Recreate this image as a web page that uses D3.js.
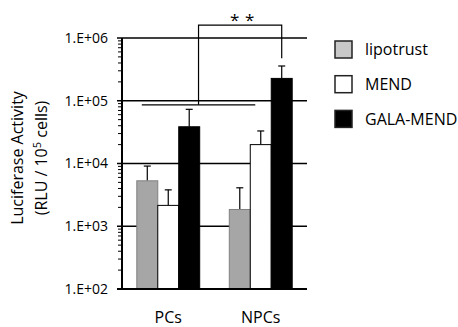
<!DOCTYPE html>
<html>
<head>
<meta charset="utf-8">
<script src="https://cdn.jsdelivr.net/npm/d3@7"></script>
<style>
  body { margin: 0; background: #fff; }
  text { font-family: "Open Sans", sans-serif; fill: #000; }
</style>
</head>
<body>
<div id="chart"></div>
<script>
// Data
const categories = ["PCs", "NPCs"];
const seriesNames = ["lipotrust", "MEND", "GALA-MEND"];
const lipotrustMean = [5300, 1850];
const lipotrustUpper = [9100, 4100];
const mendMean = [2150, 20000];
const mendUpper = [3800, 33000];
const galaMean = [38500, 227000];
const galaUpper = [73000, 358000];
const yTicks = [1e2, 1e3, 1e4, 1e5, 1e6];
const yTickLabels = ["1.E+02", "1.E+03", "1.E+04", "1.E+05", "1.E+06"];

const width = 458, height = 327;
const svg = d3.select("#chart").append("svg")
    .attr("width", width)
    .attr("height", height);

const x0 = d3.scaleBand().domain(categories).range([122, 307])
    .paddingInner(0.32).paddingOuter(0.16);
const x1 = d3.scaleBand().domain(seriesNames).range([0, x0.bandwidth()]);
const y = d3.scaleLog().domain([1e2, 1e6]).range([289, 38]);

const fills = { "lipotrust": "#a6a6a6", "MEND": "#ffffff", "GALA-MEND": "#000000" };
const strokes = { "lipotrust": "#808080", "MEND": "#000000", "GALA-MEND": "#000000" };
const legendFills = { "lipotrust": "#c8c8c8", "MEND": "#ffffff", "GALA-MEND": "#000000" };

const bars = [];
categories.forEach((c, i) => {
    bars.push({ cat: c, s: "lipotrust", v: lipotrustMean[i], up: lipotrustUpper[i] });
    bars.push({ cat: c, s: "MEND", v: mendMean[i], up: mendUpper[i] });
    bars.push({ cat: c, s: "GALA-MEND", v: galaMean[i], up: galaUpper[i] });
});

// gridlines at each decade
svg.append("g").selectAll("line")
    .data(yTicks)
    .enter().append("line")
    .attr("x1", 117).attr("x2", 307)
    .attr("y1", d => y(d)).attr("y2", d => y(d))
    .attr("stroke", "#000").attr("stroke-width", 1.5);

// minor ticks
const minor = [];
for (let e = 2; e < 6; e++) for (let m = 2; m <= 9; m++) minor.push(m * Math.pow(10, e));
svg.append("g").selectAll("line")
    .data(minor)
    .enter().append("line")
    .attr("x1", 118).attr("x2", 122)
    .attr("y1", d => y(d)).attr("y2", d => y(d))
    .attr("stroke", "#000").attr("stroke-width", 1);

// error bars
const capW = 7;
const err = svg.append("g").selectAll("g")
    .data(bars)
    .enter().append("g")
    .attr("transform", d => `translate(${x0(d.cat) + x1(d.s) + x1.bandwidth() / 2},0)`);
err.append("line")
    .attr("y1", d => y(d.v)).attr("y2", d => y(d.up))
    .attr("stroke", "#000").attr("stroke-width", 1.2);
err.append("line")
    .attr("x1", -capW / 2).attr("x2", capW / 2)
    .attr("y1", d => y(d.up)).attr("y2", d => y(d.up))
    .attr("stroke", "#000").attr("stroke-width", 1.2);

// bars
svg.append("g").selectAll("rect")
    .data(bars)
    .enter().append("rect")
    .attr("x", d => x0(d.cat) + x1(d.s))
    .attr("width", x1.bandwidth())
    .attr("y", d => y(d.v))
    .attr("height", d => y(1e2) - y(d.v))
    .attr("fill", d => fills[d.s])
    .attr("stroke", d => strokes[d.s])
    .attr("stroke-width", 1);

// axes lines
svg.append("line").attr("x1", 122).attr("x2", 122).attr("y1", 38).attr("y2", 289)
    .attr("stroke", "#000").attr("stroke-width", 2);
svg.append("line").attr("x1", 117).attr("x2", 307).attr("y1", 289).attr("y2", 289)
    .attr("stroke", "#000").attr("stroke-width", 2);

// y tick labels
svg.append("g").selectAll("text")
    .data(yTicks)
    .enter().append("text")
    .attr("x", 108)
    .attr("y", d => y(d))
    .attr("dy", "0.35em")
    .attr("text-anchor", "end")
    .attr("font-size", 14)
    .text((d, i) => yTickLabels[i]);

// category labels
svg.append("g").selectAll("text")
    .data(categories)
    .enter().append("text")
    .attr("x", d => x0(d) + x0.bandwidth() / 2)
    .attr("y", 323)
    .attr("text-anchor", "middle")
    .attr("font-size", 16)
    .text(d => d);

// y axis title
const title = svg.append("text")
    .attr("transform", "translate(0,158) rotate(-90)")
    .attr("text-anchor", "middle")
    .attr("font-size", 16);
title.append("tspan").attr("x", 0).attr("y", 23).text("Luciferase  Activity");
const t2 = title.append("tspan").attr("x", 0).attr("y", 47);
t2.append("tspan").text("(RLU / 10");
t2.append("tspan").attr("font-size", 11).attr("dy", -6).text("5");
t2.append("tspan").attr("dy", 6).text(" cells)");

// significance bracket
const pcStart = x0("PCs");
const npcStart = x0("NPCs");
const lowY = y(8.6e4), topY = y(1.6e6), dropY = y(4.75e5);
const leftX = pcStart + 5, rightX = npcStart + x1("MEND") + 5;
const midX = (leftX + rightX) / 2;
const endX = npcStart + x1("GALA-MEND") + x1.bandwidth() / 2;
svg.append("line").attr("x1", leftX).attr("x2", rightX).attr("y1", lowY).attr("y2", lowY)
    .attr("stroke", "#000").attr("stroke-width", 1.2);
svg.append("path")
    .attr("d", `M${midX},${lowY}V${topY}H${endX}V${dropY}`)
    .attr("fill", "none").attr("stroke", "#000").attr("stroke-width", 1.2);
const starX = (midX + endX) / 2 + 2;
svg.append("g").selectAll("text")
    .data([-7.5, 7.5])
    .enter().append("text")
    .attr("x", d => starX + d)
    .attr("y", 26)
    .attr("text-anchor", "middle")
    .attr("font-size", 17)
    .text("*");

// legend
const legend = svg.append("g").selectAll("g")
    .data(seriesNames)
    .enter().append("g")
    .attr("transform", (d, i) => `translate(335,${41 + i * 34.7})`);
legend.append("rect")
    .attr("width", 17).attr("height", 17)
    .attr("fill", d => legendFills[d])
    .attr("stroke", "#222").attr("stroke-width", 1.5);
legend.append("text")
    .attr("x", 30).attr("y", 8.5).attr("dy", "0.35em")
    .attr("font-size", 16)
    .text(d => d);
</script>
</body>
</html>
